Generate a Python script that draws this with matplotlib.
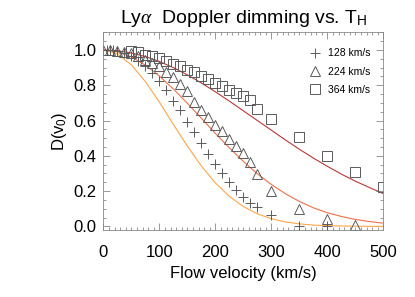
import matplotlib
matplotlib.use("Agg")
import matplotlib.pyplot as plt
from matplotlib.ticker import MultipleLocator

plt.rcParams['font.family'] = ['Liberation Sans', 'DejaVu Sans']
plt.rcParams['mathtext.fontset'] = 'custom'
plt.rcParams['mathtext.rm'] = 'Liberation Sans'
plt.rcParams['mathtext.it'] = 'Liberation Serif:italic'

# model curves, read every 25 km/s
v_line = [0, 25, 50, 75, 100, 125, 150, 175, 200, 225, 250, 275, 300, 325,
          350, 375, 400, 425, 450, 475, 500]
d_line_128 = [1.0, 0.978, 0.916, 0.821, 0.705, 0.578, 0.455, 0.342, 0.246, 0.170,
              0.112, 0.071, 0.043, 0.025, 0.014, 0.007, 0.004, 0.002, 0.001, 0.0, 0.0]
d_line_224 = [1.0, 0.990, 0.961, 0.914, 0.852, 0.779, 0.698, 0.613, 0.527, 0.445,
              0.368, 0.298, 0.237, 0.185, 0.141, 0.105, 0.077, 0.056, 0.039, 0.027, 0.018]
d_line_364 = [1.0, 0.996, 0.983, 0.963, 0.935, 0.900, 0.859, 0.813, 0.763, 0.710,
              0.655, 0.600, 0.545, 0.490, 0.437, 0.387, 0.340, 0.296, 0.256, 0.220, 0.185]

# simulated points
v_128 = [0, 6, 12, 18, 25, 37.5, 50, 62.5, 75, 87.5, 100, 112.5, 125, 137.5, 150,
         162.5, 175, 187.5, 200, 212.5, 225, 237.5, 250, 262.5, 275, 300, 350, 400]
d_128 = [1.0, 1.0, 1.0, 1.0, 0.995, 0.985, 0.965, 0.94, 0.91, 0.870, 0.823, 0.776,
         0.713, 0.658, 0.594, 0.533, 0.473, 0.410, 0.353, 0.302, 0.253, 0.207, 0.169,
         0.135, 0.109, 0.064, 0.003, 0.0]

v_224 = [0, 12.5, 25, 37.5, 50, 62.5, 75, 87.5, 100, 112.5, 125, 137.5, 150, 162.5,
         175, 187.5, 200, 212.5, 225, 237.5, 250, 262.5, 275, 300, 350, 400, 450]
d_224 = [1.0, 1.0, 0.995, 0.99, 0.984, 0.965, 0.946, 0.927, 0.908, 0.876, 0.845,
         0.810, 0.766, 0.706, 0.662, 0.620, 0.577, 0.539, 0.495, 0.453, 0.416, 0.363,
         0.298, 0.198, 0.098, 0.043, 0.009]

v_364 = [50, 62.5, 75, 87.5, 100, 112.5, 125, 137.5, 150, 162.5, 175, 187.5, 200,
         212.5, 225, 237.5, 250, 262.5, 275, 300, 350, 400, 450, 500]
d_364 = [0.993, 0.988, 0.974, 0.965, 0.956, 0.936, 0.918, 0.908, 0.889, 0.874, 0.855,
         0.836, 0.814, 0.794, 0.776, 0.757, 0.738, 0.715, 0.666, 0.611, 0.505, 0.401,
         0.306, 0.223]

labels = ['128 km/s', '224 km/s', '364 km/s']

fig = plt.figure(figsize=(4.15, 2.97), dpi=100)
ax = fig.add_axes([0.249, 0.226, 0.675, 0.665])

ax.plot(v_line, d_line_128, color='#ffa54a', lw=0.8)
ax.plot(v_line, d_line_224, color='#ee7048', lw=0.8)
ax.plot(v_line, d_line_364, color='#b83838', lw=0.8)

mc = '#5a5a5a'
ax.plot(v_128, d_128, ls='none', marker='+', ms=7.5, mew=0.7, color=mc, label=labels[0])
ax.plot(v_224, d_224, ls='none', marker='^', ms=7, mew=0.7, mfc='none', mec=mc, label=labels[1])
ax.plot(v_364, d_364, ls='none', marker='s', ms=7.5, mew=0.7, mfc='none', mec=mc, label=labels[2])

ax.set_xlim(0, 500)
ax.set_ylim(-0.02, 1.10)
ax.xaxis.set_major_locator(MultipleLocator(100))
ax.xaxis.set_minor_locator(MultipleLocator(10))
ax.yaxis.set_major_locator(MultipleLocator(0.2))
ax.yaxis.set_minor_locator(MultipleLocator(0.05))
ax.yaxis.set_major_formatter(matplotlib.ticker.FormatStrFormatter('%.1f'))
ax.tick_params(which='both', direction='in', top=True, right=True, width=0.6, color='#888888')
ax.tick_params(which='major', length=5, labelsize=12)
ax.tick_params(axis='x', which='major', pad=11)
ax.tick_params(axis='y', which='major', pad=5)
ax.tick_params(which='minor', length=2.5)
for s in ax.spines.values():
    s.set_linewidth(0.6)
    s.set_color('#888888')

ax.set_xlabel('Flow velocity (km/s)', fontsize=12, labelpad=4)
ax.set_ylabel('D(v$_0$)', fontsize=12, labelpad=3)
ax.set_title(r'Ly$\alpha$  Doppler dimming vs. T$_{\rm H}$', fontsize=14, pad=7)

ax.legend(loc='upper right', bbox_to_anchor=(0.968, 0.94), frameon=False, fontsize=7.5,
          handlelength=1.0, handletextpad=0.7, labelspacing=0.8, borderaxespad=0)

fig.savefig('out.png', dpi=100)
